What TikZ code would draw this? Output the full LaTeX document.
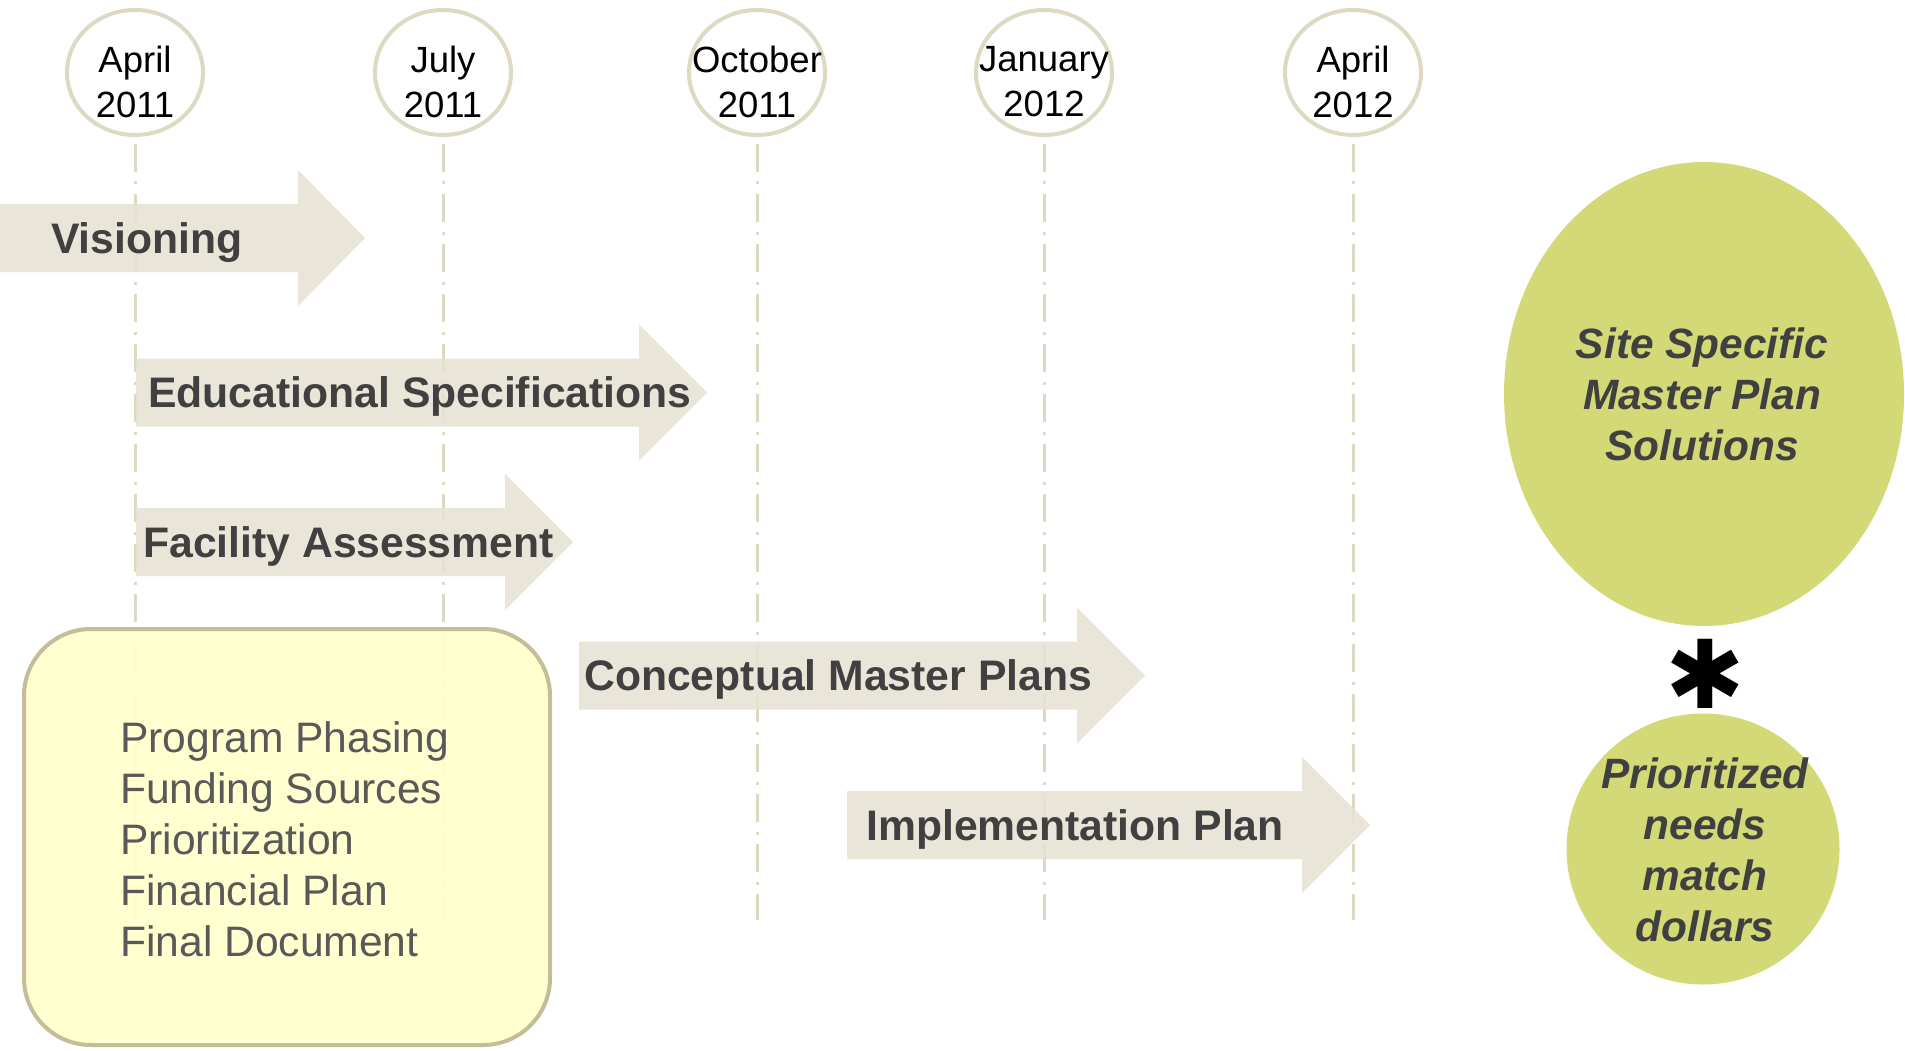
\documentclass[tikz,border=0pt]{standalone}
\usepackage{fontspec}
\setmainfont{Liberation Sans}
\newfontfamily\astfont{DejaVu Sans}
\usetikzlibrary{shapes.geometric}
\definecolor{linec}{HTML}{DDD9C3}
\definecolor{arrowc}{HTML}{E6E3D4}
\definecolor{boxfill}{HTML}{FFFFCC}
\definecolor{boxline}{HTML}{C4BD97}
\definecolor{greenc}{HTML}{D3D977}
\definecolor{darktext}{HTML}{404040}
\definecolor{graytext}{HTML}{595959}
\newcommand\phasearrow[7]{%
  \fill[arrowfill] (#2,#5-34) -- (#3,#5-34) -- (#3,#5-68) -- (#4,#5) -- (#3,#5+68) -- (#3,#5+34) -- (#2,#5+34) -- cycle;
  \node[arrowtext, anchor=base west] (#1) at (#6,#5+15) {#7};
}
\begin{document}
\begin{tikzpicture}[x=1pt,y=-1pt,
  datecirc/.style={ellipse, draw=linec, line width=4pt, fill=white, minimum width=136pt, minimum height=125pt, inner sep=0pt},
  datetext/.style={align=center, inner sep=0pt, font=\fontsize{36.5}{45}\selectfont, text=black},
  vline/.style={draw=linec, line width=3pt, dash pattern=on 28pt off 9.5pt on 3pt off 9.5pt},
  arrowfill/.style={fill=arrowc, fill opacity=0.88},
  arrowtext/.style={inner sep=0pt, font=\fontsize{42.7}{50}\selectfont\bfseries, text=darktext},
  planbox/.style={draw=boxline, line width=4pt, fill=boxfill, fill opacity=0.92, rounded corners=67pt, minimum width=526pt, minimum height=416pt, inner sep=0pt},
  plantext/.style={align=left, inner sep=0pt, font=\fontsize{42.6}{51}\selectfont, text=graytext},
  greenblob/.style={ellipse, fill=greenc, inner sep=0pt},
  greentext/.style={align=center, inner sep=0pt, font=\fontsize{42.4}{51}\selectfont\bfseries\itshape, text=darktext}
]
\useasboundingbox (0,0) rectangle (1905,1051);
\fill[white] (0,0) rectangle (1905,1051);

% date circles
\node[datecirc] (c1) at (135,72.5) {};
\node[datecirc] (c2) at (443,72.5) {};
\node[datecirc] (c3) at (757,72.5) {};
\node[datecirc] (c4) at (1044,72.5) {};
\node[datecirc] (c5) at (1353,72.5) {};
\node[datetext] (d1) at (135,82) {April\\2011};
\node[datetext] (d2) at (443,82) {July\\2011};
\node[datetext] (d3) at (757,82) {October\\2011};
\node[datetext] (d4) at (1044,82) {January\\2012};
\node[datetext] (d5) at (1353,82) {April\\2012};

% timeline guides
\coordinate (e1) at (135,920);
\coordinate (e2) at (443,920);
\coordinate (e3) at (757,920);
\coordinate (e4) at (1044,920);
\coordinate (e5) at (1353,920);
\draw[vline] ([yshift=-7pt]c1.south) -- (e1);
\draw[vline] ([yshift=-7pt]c2.south) -- (e2);
\draw[vline] ([yshift=-7pt]c3.south) -- (e3);
\draw[vline] ([yshift=-7pt]c4.south) -- (e4);
\draw[vline] ([yshift=-7pt]c5.south) -- (e5);

% phase arrows
\phasearrow{vis}{0}{298}{365}{238}{51}{Visioning}
\phasearrow{edu}{136}{639}{707}{392.5}{148}{Educational Specifications}
\phasearrow{fac}{136}{505}{573}{542}{143}{Facility Assessment}
\phasearrow{con}{579}{1077}{1145}{675.5}{584}{Conceptual Master Plans}
\phasearrow{imp}{847}{1302}{1370}{825}{866}{Implementation Plan}

% plan box
\node[planbox] (plan) at (287,837) {};
\node[plantext, anchor=west] (plantxt) at (120,839) {Program Phasing\\Funding Sources\\Prioritization\\Financial Plan\\Final Document};

% green results
\node[greenblob, minimum width=400pt, minimum height=464pt] (site) at (1704,394) {};
\node[greentext] (sitetxt) at (1702,394) {Site Specific\\Master Plan\\Solutions};
\node[greenblob, minimum width=273pt, minimum height=271pt] (prio) at (1703,849) {};
\node[greentext] (priotxt) at (1705,850) {Prioritized\\needs\\match\\dollars};
\node[inner sep=0pt, font=\fontsize{95}{95}\selectfont\astfont] (ast) at (1705,674) {✱};
\end{tikzpicture}
\end{document}
